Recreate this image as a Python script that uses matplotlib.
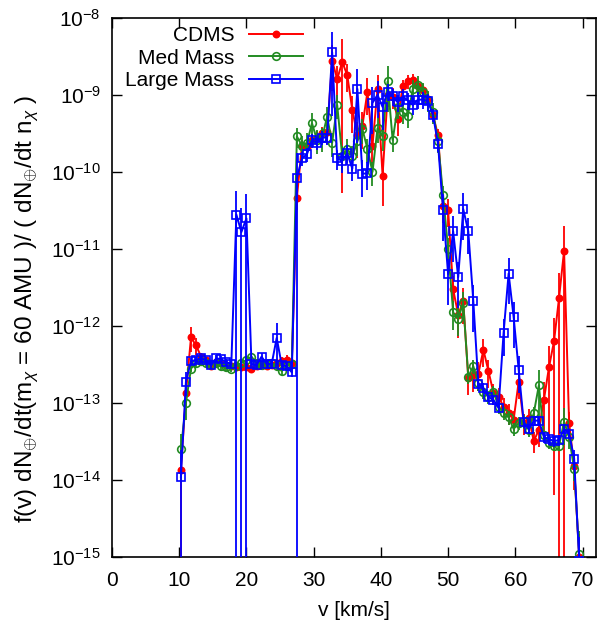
import matplotlib
matplotlib.use("Agg")
import matplotlib.pyplot as plt
import numpy as np

plt.rcParams['font.family'] = ['Liberation Sans', 'DejaVu Sans']
plt.rcParams['mathtext.fontset'] = 'custom'
plt.rcParams['mathtext.rm'] = 'Liberation Sans'
plt.rcParams['mathtext.it'] = 'Liberation Sans:italic'
plt.rcParams['mathtext.sf'] = 'Liberation Sans'
plt.rcParams['axes.unicode_minus'] = False

# velocidad (km/s), mismo mallado para las tres series
v = [10.25, 11.0, 11.75, 12.5, 13.25, 14.0, 14.75, 15.5, 16.25, 17.0,
     17.75, 18.5, 19.25, 20.0, 20.75, 21.5, 22.25, 23.0, 23.75, 24.5,
     25.25, 26.0, 26.75, 27.5, 28.25, 29.0, 29.75, 30.5, 31.25, 32.0,
     32.75, 33.5, 34.25, 35.0, 35.75, 36.5, 37.25, 38.0, 38.75, 39.5,
     40.25, 41.0, 41.75, 42.5, 43.25, 44.0, 44.75, 45.5, 46.25, 47.0,
     47.75, 48.5, 49.25, 50.0, 50.75, 51.5, 52.25, 53.0, 53.75, 54.5,
     55.25, 56.0, 56.75, 57.5, 58.25, 59.0, 59.75, 60.5, 61.25, 62.0,
     62.75, 63.5, 64.25, 65.0, 65.75, 66.5, 67.25, 68.0, 68.75, 69.5]

cdms = [1.35e-14, 1.35e-13, 7.1e-13, 5.6e-13, 4.0e-13, 3.6e-13, 3.0e-13, 3.4e-13, 3.3e-13, 3.1e-13,
        3.0e-13, 2.9e-13, 2.9e-13, 2.9e-13, 2.8e-13, 3.0e-13, 3.2e-13, 3.0e-13, 3.1e-13, 3.3e-13,
        3.5e-13, 3.6e-13, 3.3e-13, 4.6e-11, 2.2e-10, 2.1e-10, 2.6e-10, 2.8e-10, 3.2e-10, 3.3e-10,
        2.8e-9, 1.6e-9, 2.7e-9, 1.8e-9, 6.4e-10, 3.0e-10, 4.0e-10, 1.1e-9, 2.2e-10, 1.2e-9,
        9.0e-11, 1.0e-9, 9.5e-10, 4.9e-10, 1.3e-9, 1.5e-9, 1.55e-9, 1.3e-9, 1.15e-9, 9.0e-10,
        5.5e-10, 3.0e-10, 3.6e-11, 3.2e-11, 3.0e-12, 1.4e-12, 2.1e-12, 2.1e-13, 2.3e-13, 2.4e-13,
        4.9e-13, 2.6e-13, 1.35e-13, 1.2e-13, 9.0e-14, 7.5e-14, 6.1e-14, 1.9e-13, 5.5e-14, 6.4e-14,
        3.2e-14, 4.5e-14, 1.1e-13, 2.9e-13, 6.3e-13, 2.3e-12, 9.5e-12, 5.5e-14, 1.5e-14, 1.0e-15]

med = [2.5e-14, 1.0e-13, 2.8e-13, 3.3e-13, 3.5e-13, 3.3e-13, 3.2e-13, 3.3e-13, 3.0e-13, 2.9e-13,
       2.8e-13, 3.0e-13, 3.3e-13, 3.6e-13, 4.0e-13, 3.3e-13, 3.1e-13, 3.2e-13, 3.3e-13, 3.0e-13,
       2.6e-13, 3.1e-13, 3.2e-13, 2.9e-10, 2.2e-10, 2.4e-10, 4.3e-10, 2.6e-10, 2.8e-10, 5.2e-10,
       2.4e-10, 7.4e-10, 1.6e-10, 2.0e-10, 1.6e-10, 2.5e-10, 3.6e-10, 2.0e-10, 1.0e-10, 3.7e-10,
       2.9e-10, 1.5e-9, 2.6e-10, 7.0e-10, 6.0e-10, 5.3e-10, 1.2e-9, 1.35e-9, 1.1e-9, 8.6e-10,
       6.0e-10, 2.5e-10, 5.0e-11, 1.0e-11, 1.5e-12, 1.25e-12, 2.0e-12, 2.2e-13, 3.0e-13, 1.8e-13,
       1.4e-13, 1.2e-13, 1.4e-13, 9.0e-14, 7.5e-14, 6.5e-14, 4.6e-14, 5.5e-14, 5.8e-14, 4.5e-14,
       7.4e-14, 1.7e-13, 3.8e-14, 3.0e-14, 2.8e-14, 2.8e-14, 5.7e-14, 3.6e-14, 1.4e-14, 1.1e-15]

large = [1.1e-14, 1.9e-13, 3.5e-13, 3.6e-13, 3.8e-13, 3.6e-13, 3.1e-13, 3.8e-13, 3.7e-13, 3.4e-13,
         3.2e-13, 2.8e-11, 1.66e-11, 2.5e-11, 3.2e-13, 3.1e-13, 4.0e-13, 3.2e-13, 3.2e-13, 7.0e-13,
         3.1e-13, 3.0e-13, 2.5e-13, 8.3e-11, 1.5e-10, 1.7e-10, 2.6e-10, 2.4e-10, 2.8e-10, 2.8e-10,
         3.6e-9, 1.5e-10, 1.4e-10, 1.75e-10, 1.1e-10, 1.2e-9, 9.5e-11, 9.6e-11, 7.9e-10, 1.0e-9,
         7.0e-10, 1.1e-9, 9.6e-10, 8.0e-10, 9.6e-10, 8.5e-10, 7.4e-10, 8.7e-10, 8.7e-10, 8.3e-10,
         5.5e-10, 2.3e-10, 3.2e-11, 4.7e-12, 1.7e-11, 4.3e-12, 3.3e-11, 1.7e-11, 2.1e-12, 1.77e-13,
         1.57e-13, 1.2e-13, 1.1e-13, 8.6e-14, 8.1e-13, 4.8e-12, 1.3e-12, 2.7e-13, 5.6e-14, 4.6e-14,
         5.9e-14, 5.9e-14, 3.6e-14, 3.4e-14, 3.2e-14, 3.3e-14, 4.6e-14, 4.0e-14, 1.9e-14, 9.0e-16]

# errores relativos (dy / y)
cdms_err = [1.2, 0.4, 0.35, 0.25, 0.1, 0.1, 0.1, 0.1, 0.1, 0.1,
            0.1, 0.1, 0.1, 0.1, 0.1, 0.1, 0.1, 0.1, 0.1, 0.12,
            0.12, 0.15, 0.15, 0.3, 0.2, 0.2, 0.2, 0.2, 0.2, 0.3,
            0.6, 0.5, 0.98, 0.4, 0.5, 0.5, 0.5, 0.5, 0.6, 0.5,
            0.6, 0.3, 0.3, 0.4, 0.2, 0.2, 0.2, 0.2, 0.2, 0.2,
            0.2, 0.2, 0.4, 0.4, 0.5, 0.5, 0.5, 0.4, 0.4, 0.4,
            0.4, 0.4, 0.3, 0.3, 0.3, 0.3, 0.3, 0.4, 0.3, 0.3,
            0.3, 0.4, 0.7, 0.9, 0.99, 1.1, 1.1, 0.4, 0.5, 1.0]

med_err = [0.6, 0.4, 0.1, 0.1, 0.1, 0.1, 0.1, 0.1, 0.1, 0.1,
           0.1, 0.1, 0.1, 0.1, 0.1, 0.1, 0.1, 0.1, 0.1, 0.1,
           0.1, 0.1, 0.1, 0.3, 0.35, 0.35, 0.35, 0.35, 0.35, 0.35,
           0.35, 0.35, 0.35, 0.35, 0.35, 0.35, 0.35, 0.35, 0.35, 0.35,
           0.35, 0.6, 0.3, 0.3, 0.3, 0.3, 0.3, 0.3, 0.3, 0.3,
           0.3, 0.3, 0.3, 0.4, 0.4, 0.4, 0.4, 0.2, 0.2, 0.2,
           0.2, 0.2, 0.2, 0.2, 0.2, 0.2, 0.2, 0.2, 0.2, 0.2,
           0.2, 0.6, 0.15, 0.15, 0.15, 0.15, 0.5, 0.3, 0.3, 1.0]

large_err = [1.2, 0.35, 0.1, 0.1, 0.1, 0.1, 0.1, 0.1, 0.1, 0.1,
             0.1, 1.05, 1.05, 1.05, 0.1, 0.1, 0.1, 0.1, 0.1, 0.55,
             0.12, 0.12, 0.12, 1.1, 0.2, 0.2, 0.2, 0.2, 0.2, 0.2,
             0.85, 0.3, 0.3, 0.3, 0.3, 0.8, 0.5, 0.4, 0.6, 0.5,
             0.5, 0.25, 0.25, 0.25, 0.25, 0.25, 0.25, 0.25, 0.25, 0.25,
             0.2, 0.2, 0.6, 0.6, 0.6, 0.6, 0.6, 0.5, 0.6, 0.15,
             0.15, 0.15, 0.15, 0.15, 0.5, 0.6, 0.6, 0.5, 0.15, 0.15,
             0.15, 0.15, 0.15, 0.15, 0.15, 0.15, 0.15, 0.15, 0.3, 1.0]

series = [
    ("CDMS", cdms, cdms_err, "#ff0000", "o", "#ff0000", 4.5),
    ("Med Mass", med, med_err, "#228b22", "o", "none", 5.5),
    ("Large Mass", large, large_err, "#0000ff", "s", "none", 6),
]

fig = plt.figure(figsize=(5.97, 6.28), dpi=100)
ax = fig.add_axes([112 / 597, 71 / 628, 484 / 597, 539 / 628])

for i, (nombre, y, err, color, marca, relleno, tam) in enumerate(series):
    y = np.array(y)
    dy = np.array(err) * y
    bajo = np.maximum(y - dy, 1e-20)
    ax.errorbar(v, y, yerr=[y - bajo, dy], fmt="none", ecolor=color,
                elinewidth=1.3, capsize=0, zorder=2 + 2 * i)
    ax.plot(v, y, "-", color=color, lw=1.4, marker=marca, mfc=relleno,
            mec=color, mew=1.2, ms=tam, label=nombre, zorder=3 + 2 * i)

ax.set_yscale("log")
ax.set_xlim(0, 72)
ax.set_ylim(1e-15, 1e-8)
ax.set_xticks(range(0, 71, 10))
ax.yaxis.set_minor_locator(matplotlib.ticker.NullLocator())
ax.tick_params(axis="both", which="major", direction="in", length=7, width=1,
               top=True, right=True, labelsize=15)
ax.tick_params(axis="y", pad=8)
ax.tick_params(axis="x", pad=10)
for s in ax.spines.values():
    s.set_linewidth(1.2)

ax.set_xlabel("v [km/s]", fontsize=15, labelpad=8)
ax.set_ylabel(r"f(v) dN$_{\oplus}$/dt(m$_{\chi}$ = 60 AMU )/ ( dN$_{\oplus}$/dt n$_{\chi}$ )",
              fontsize=17.5)
ax.yaxis.set_label_coords(-0.147, 0.46)

leg = ax.legend(loc="upper right", bbox_to_anchor=(303 / 597, 1 - 26 / 628),
                bbox_transform=fig.transFigure, frameon=False, markerfirst=False,
                fontsize=15, handlelength=2.6, handletextpad=0.7,
                labelspacing=0.18, borderpad=0, borderaxespad=0)

fig.savefig("out.png", dpi=100)
